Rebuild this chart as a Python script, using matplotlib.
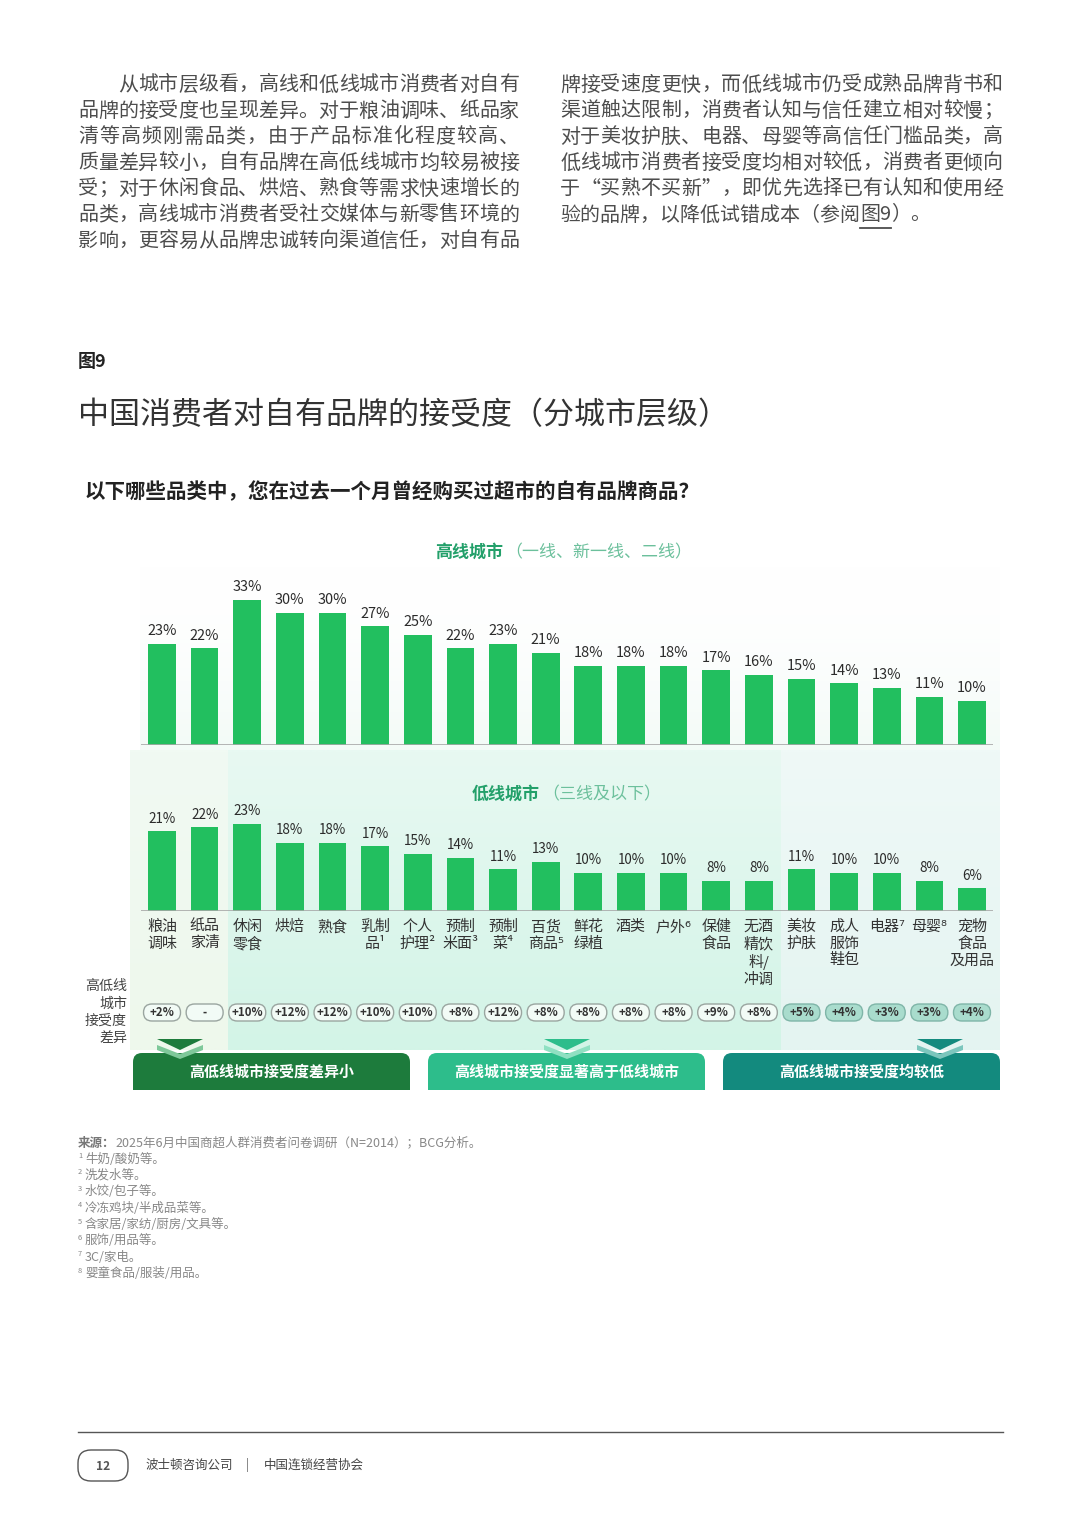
import numpy as np
import matplotlib.pyplot as plt
from matplotlib.patches import FancyBboxPatch, Polygon, Rectangle
from matplotlib.colors import to_rgb

plt.rcParams['font.family'] = ['Noto Sans CJK SC', 'DejaVu Sans']

# ---- data ----
categories = ['粮油\n调味', '纸品\n家清', '休闲\n零食', '烘焙', '熟食', '乳制\n品¹', '个人\n护理²',
              '预制\n米面³', '预制\n菜⁴', '百货\n商品⁵', '鲜花\n绿植', '酒类', '户外⁶', '保健\n食品',
              '无酒\n精饮\n料/\n冲调', '美妆\n护肤', '成人\n服饰\n鞋包', '电器⁷', '母婴⁸', '宠物\n食品\n及用品']
high_tier = [23, 22, 33, 30, 30, 27, 25, 22, 23, 21, 18, 18, 18, 17, 16, 15, 14, 13, 11, 10]
low_tier = [21, 22, 23, 18, 18, 17, 15, 14, 11, 13, 10, 10, 10, 8, 8, 11, 10, 10, 8, 6]
diff_labels = ['+2%', '-', '+10%', '+12%', '+12%', '+10%', '+10%', '+8%', '+12%', '+8%',
               '+8%', '+8%', '+8%', '+9%', '+8%', '+5%', '+4%', '+3%', '+3%', '+4%']
groups = [0, 0] + [1] * 13 + [2] * 5
group_titles = ['高低线城市接受度差异小', '高线城市接受度显著高于低线城市', '高低线城市接受度均较低']

para_left = ['从城市层级看，高线和低线城市消费者对自有',
             '品牌的接受度也呈现差异。对于粮油调味、纸品家',
             '清等高频刚需品类，由于产品标准化程度较高、',
             '质量差异较小，自有品牌在高低线城市均较易被接',
             '受；对于休闲食品、烘焙、熟食等需求快速增长的',
             '品类，高线城市消费者受社交媒体与新零售环境的',
             '影响，更容易从品牌忠诚转向渠道信任，对自有品']
para_right = ['牌接受速度更快，而低线城市仍受成熟品牌背书和',
              '渠道触达限制，消费者认知与信任建立相对较慢；',
              '对于美妆护肤、电器、母婴等高信任门槛品类，高',
              '低线城市消费者接受度均相对较低，消费者更倾向',
              '于“买熟不买新”，即优先选择已有认知和使用经']
para_last = ['验的品牌，以降低试错成本（参阅', '图9', '）。']
footnotes = ['牛奶/酸奶等。', '洗发水等。', '水饺/包子等。', '冷冻鸡块/半成品菜等。',
             '含家居/家纺/厨房/文具等。', '服饰/用品等。', '3C/家电。', '婴童食品/服装/用品。']

BAR = '#22bf5f'
TXT = '#4d4d4d'
W, H = 1080, 1528

fig = plt.figure(figsize=(W / 100, H / 100), dpi=100)
bg = fig.add_axes([0, 0, 1, 1])
bg.set_xlim(0, W)
bg.set_ylim(H, 0)
bg.axis('off')
renderer = fig.canvas.get_renderer()
inv = bg.transData.inverted()


def T(x, y, s, px, **kw):
    kw.setdefault('va', 'center')
    kw.setdefault('color', '#444444')
    return bg.text(x, y, s, fontsize=px * 0.72, **kw)


def right_edge(t):
    bb = t.get_window_extent(renderer)
    return inv.transform((bb.x1, bb.y0))[0], inv.transform((bb.x0, bb.y0))[0]


def pix_axes(x0, y0, x1, y1):
    return fig.add_axes([x0 / W, 1 - y1 / H, (x1 - x0) / W, (y1 - y0) / H])


def grad(x0, x1, y0, y1, c_top, c_bot, a_top=1.0, a_bot=1.0):
    t = np.linspace(0, 1, 64)[:, None]
    ct, cb = np.array(to_rgb(c_top)), np.array(to_rgb(c_bot))
    rgb = ct * (1 - t) + cb * t
    a = a_top * (1 - t) + a_bot * t
    img = np.dstack([rgb[:, 0:1], rgb[:, 1:2], rgb[:, 2:3], a])
    bg.imshow(img, extent=[x0, x1, y1, y0], aspect='auto', interpolation='bilinear', zorder=0)


# ---- body text ----
def justified(lines, x0, x1, y0, dy, indent_first=0):
    for k, line in enumerate(lines):
        y = y0 + k * dy
        xs = x0 + (indent_first if k == 0 else 0)
        step = (x1 - xs) / len(line)
        for i, ch in enumerate(line):
            T(xs + step * (i + 0.5), y, ch, 20, ha='center', color=TXT)


justified(para_left, 78, 519, 85, 26, indent_first=40)
justified(para_right, 560, 1003, 85, 26)
xcur = 560
for part in para_last:
    t = T(xcur, 215, part, 20, ha='left', color=TXT)
    x_r, x_l = right_edge(t)
    if part == '图9':
        bg.plot([x_l, x_r], [228, 228], color=TXT, lw=1.3)
    xcur = x_r

T(78, 362, '图9', 18, ha='left', weight='bold', color='#222222')
T(78, 416, '中国消费者对自有品牌的接受度（分城市层级）', 31, ha='left', weight='light', color='#333333')
T(85, 492, '以下哪些品类中，您在过去一个月曾经购买过超市的自有品牌商品？', 20.5, ha='left',
  weight='bold', color='#222222')

# ---- background panels ----
grad(140, 1000, 565, 750, '#ffffff', '#f0faf5', 0.0, 0.8)
grad(130, 228, 750, 1050, '#f1faf3', '#eef8ec')
grad(228, 781, 750, 1050, '#e8f9f2', '#d3f4e7')
grad(781, 1000, 750, 1050, '#eff9f7', '#e4f4f1')

# ---- bars ----
x = np.arange(len(categories))
ax_hi = pix_axes(140.7, 580, 993.3, 745)
ax_lo = pix_axes(140.7, 811, 993.3, 911)
for ax, vals, top, lab_px in [(ax_hi, high_tier, 37.5, 14.5), (ax_lo, low_tier, 26.3, 13.5)]:
    ax.patch.set_alpha(0)
    ax.bar(x, vals, width=0.65, color=BAR, zorder=2)
    ax.set_xlim(-0.5, len(categories) - 0.5)
    ax.set_ylim(0, top)
    ax.axhline(0, color='#a8a8a8', lw=1.2, zorder=3)
    for s in ax.spines.values():
        s.set_visible(False)
    ax.set_yticks([])
    for xi, v in zip(x, vals):
        ax.annotate(f'{v}%', (xi, v), xytext=(0, 4), textcoords='offset points',
                    ha='center', va='bottom', fontsize=lab_px * 0.72, color='#2b2b2b')
ax_hi.set_xticks([])
ax_lo.set_xticks(x)
ax_lo.set_xticklabels(categories, fontsize=15 * 0.72, linespacing=1.22, color='#333333')
ax_lo.tick_params(length=0, pad=6.5)

# series titles
T(503, 552, '高线城市', 17, ha='right', weight='bold', color='#23a06a')
T(505, 552, '（一线、新一线、二线）', 17, ha='left', weight='light', color='#6cc09c')
T(540, 794, '低线城市', 17, ha='right', weight='bold', color='#23a06a')
T(542, 794, '（三线及以下）', 17, ha='left', weight='light', color='#6cc09c')

# ---- differences row ----
T(127, 1012, '高低线\n城市\n接受度\n差异', 14, ha='right', linespacing=1.3, color='#444444')
pill_face = ['#f2fbf6', '#f2fbf6', '#a9dccd']
pill_edge = ['#9aa5a0', '#9aa5a0', '#7fb5a8']
for xi, lab, g in zip(x, diff_labels, groups):
    px = inv.transform(ax_lo.transData.transform((xi, 0)))[0]
    bg.add_patch(FancyBboxPatch((px - 18.5, 1004), 37, 17,
                                boxstyle='round,pad=0,rounding_size=8.5',
                                fc=pill_face[g], ec=pill_edge[g], lw=1, zorder=3))
    T(px, 1012.5, lab, 11.5, ha='center', weight='bold', color='#333333', zorder=4)

# ---- group boxes ----
box_x = [133, 428, 723]
box_c = ['#1d7b3c', '#2dbd8b', '#138a7e']
chev_light = ['#7fc89a', '#8fe0c2', '#7cc6bd']
chev_x = [180, 567, 940]
for bx, c, cl, cx, title in zip(box_x, box_c, chev_light, chev_x, group_titles):
    bg.add_patch(FancyBboxPatch((bx, 1053), 277, 37, boxstyle='round,pad=0,rounding_size=9',
                                fc=c, ec='none', zorder=3))
    bg.add_patch(Rectangle((bx, 1072), 277, 18, fc=c, ec='none', zorder=3))
    T(bx + 138.5, 1072, title, 15, ha='center', weight='bold', color='white', zorder=4)
    bg.add_patch(Polygon([(cx - 23, 1039), (cx + 23, 1039), (cx, 1050)], closed=True,
                         fc=c, ec='none', zorder=4))
    bg.add_patch(Polygon([(cx - 23, 1045), (cx, 1054), (cx + 23, 1045), (cx + 23, 1050),
                          (cx, 1059), (cx - 23, 1050)], closed=True, fc=cl, ec='none', zorder=4))

# ---- source / notes ----
T(78, 1143, '来源：', 12.5, ha='left', weight='bold', color='#777777')
T(115, 1143, '2025年6月中国商超人群消费者问卷调研（N=2014）；BCG分析。', 12.5, ha='left', color='#888888')
for k, note in enumerate(footnotes):
    y = 1159 + k * 16.4
    T(78, y - 3, str(k + 1), 7.5, ha='left', color='#888888')
    T(85, y, note, 12.5, ha='left', color='#888888')

# ---- footer ----
bg.plot([78, 1003], [1432, 1432], color='#555555', lw=1)
bg.add_patch(FancyBboxPatch((78, 1450), 50, 31, boxstyle='round,pad=0,rounding_size=13',
                            fc='white', ec='#555555', lw=1))
T(103, 1466, '12', 12, ha='center', weight='bold', color='#555555')
T(145, 1465, '波士顿咨询公司', 12.5, ha='left', color='#444444')
T(247, 1465, '|', 12.5, ha='center', color='#666666')
T(264, 1465, '中国连锁经营协会', 12.5, ha='left', color='#444444')

fig.savefig('out.png', dpi=100, facecolor='white')
